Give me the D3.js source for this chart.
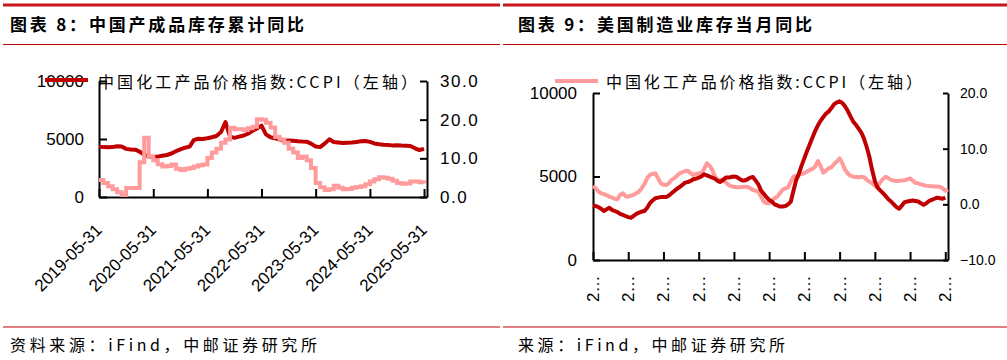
<!DOCTYPE html>
<html><head><meta charset="utf-8">
<script src="https://cdn.jsdelivr.net/npm/d3@7"></script>
<style>body{margin:0;background:#fff}svg{display:block}</style>
</head><body><svg id="c" width="1007" height="360"></svg>
<script>
// ---------- DATA ----------
// Panel 1 (monthly, 2019-05 .. 2025-05)
const leftCCPI = [4340,4300,4280,4300,4380,4350,4150,4100,4080,3900,
  3650,3500,3470,3480,3550,3620,3750,3950,4110,4250,
  4340,4900,5020,5000,5060,5150,5260,5600,6450,5200,
  5100,5200,5300,5450,5700,5900,6150,5400,5150,5050,
  4950,4850,4880,4850,4800,4780,4770,4600,4350,4300,
  4600,4970,4750,4700,4650,4680,4700,4750,4800,4830,
  4750,4620,4550,4500,4480,4450,4460,4430,4420,4400,
  4200,4050,4150];
const leftInventory = [4.4,3.6,2.8,2.0,1.2,0.5,2.3,2.3,2.3,9.0,
  15.3,10.5,9.5,8.5,7.9,8.0,8.4,7.3,7.0,7.3,
  7.5,7.9,8.2,8.4,10.1,11.5,12.5,14.0,14.9,17.9,
  17.5,17.5,17.3,17.8,18.2,20.1,20.0,19.2,18.0,15.5,
  14.9,14.0,12.5,11.5,10.1,10.5,9.5,7.5,3.6,2.5,
  1.8,2.0,2.9,2.4,2.0,2.1,2.4,2.6,2.8,3.3,
  4.0,4.6,5.1,5.0,4.7,4.2,3.6,3.4,3.5,4.0,
  4.0,3.8,3.5];
const leftTickLabels = ["2019-05-31","2020-05-31","2021-05-31","2022-05-31","2023-05-31","2024-05-31","2025-05-31"];
const leftYTicks = [0,5000,10000];
const leftY2Ticks = [0,10,20,30];

// Panel 2 (monthly index)
const rightCCPI = [4430,4300,4100,3990,3950,3880,3800,3740,3660,3640,
  3900,4000,3820,3790,3850,3900,3990,4100,4300,4550,
  4900,5090,5150,5190,4900,4590,4500,4490,4600,4800,
  4900,5050,5190,5250,5330,5350,5200,5090,5150,5200,
  5190,5450,5790,5650,5400,5000,4790,4800,4790,4650,
  4500,4420,4390,4360,4350,4370,4390,4380,4300,4190,
  4150,4090,3800,3500,3395,3400,3550,3700,3800,4000,
  4200,4290,4350,4700,4990,5050,5090,5150,5200,5300,
  5390,5450,5600,5930,5600,5230,5350,5500,5550,5750,
  5900,6090,5800,5400,5200,5050,4990,4970,4950,4980,
  4950,4800,4690,4600,4450,4390,4650,4850,4990,4900,
  4800,4750,4730,4750,4760,4780,4820,4890,4750,4620,
  4590,4530,4480,4450,4430,4420,4400,4400,4390,4300,
  4150,4230];
const rightUSInventory = [-0.2,-0.3,-0.5,-0.8,-1.2,-0.9,-0.6,-1.0,-1.2,-1.4,
  -1.7,-1.9,-2.1,-2.3,-2.4,-2.1,-1.7,-1.5,-1.3,-1.2,
  -0.6,0.2,0.7,1.1,1.2,1.3,1.3,1.3,1.6,2.0,
  2.4,2.8,3.1,3.5,3.9,4.0,4.2,4.5,4.6,4.8,
  5.0,5.4,5.2,5.0,4.8,4.6,4.2,4.0,4.4,4.8,
  4.8,4.9,5.0,4.9,4.6,4.3,4.3,4.5,4.8,4.9,
  4.3,3.6,2.5,1.9,1.3,0.8,0.5,0.0,-0.2,-0.4,
  -0.4,-0.3,0.0,0.5,2.5,4.4,5.5,7.0,8.3,9.6,
  10.8,12.0,13.2,14.2,15.0,15.7,16.3,16.7,17.3,18.0,
  18.3,18.5,18.2,17.6,16.8,15.8,14.9,14.3,13.6,12.9,
  11.8,10.3,8.5,6.2,4.2,3.0,2.5,2.0,1.5,0.9,
  0.5,0.0,-0.5,-0.8,-0.2,0.4,0.5,0.6,0.7,0.6,
  0.5,0.2,-0.1,0.2,0.6,0.8,1.0,1.2,1.1,1.0,
  1.2];
const rightTickIndex = [0,13,26,39,52,65,78,91,104,117,130];
const rightTickLabels = ["2…","2…","2…","2…","2…","2…","2…","2…","2…","2…","2…"];
const rightYTicks = [0,5000,10000];
const rightY2Ticks = [-10,0,10,20];

const legendLabel = "中国化工产品价格指数:CCPI（左轴）";
const titles = ["图表 8：中国产成品库存累计同比","图表 9：美国制造业库存当月同比"];
const sources = ["资料来源：iFind，中邮证券研究所","来源：iFind，中邮证券研究所"];

// ---------- STYLE ----------
const RED = "#C00000", PINK = "#FF9B9B", BAR = "#C8161E", LINE = "#C00000";
const CJK = '"Noto Sans CJK SC", sans-serif';
const LAT = '"Liberation Sans", Arial, sans-serif';
const svg = d3.select("#c");

// frame decorations
const frames = [{x0:3,x1:500,tx:10,tl:294,sl:307},{x0:503,x1:1007,tx:518,tl:294,sl:267}];
frames.forEach((f,i)=>{
  svg.append("rect").attr("x",f.x0).attr("y",3.5).attr("width",f.x1-f.x0).attr("height",3).attr("fill",BAR);
  svg.append("rect").attr("x",f.x0).attr("y",44).attr("width",f.x1-f.x0).attr("height",1).attr("fill",LINE);
  svg.append("rect").attr("x",f.x0).attr("y",326.5).attr("width",f.x1-f.x0).attr("height",1).attr("fill",LINE);
  svg.append("text").attr("x",f.tx).attr("y",31).attr("font-family",CJK).attr("font-weight","bold")
    .attr("font-size",17).attr("fill","#000").attr("textLength",f.tl).attr("lengthAdjust","spacing").text(titles[i]);
  svg.append("text").attr("x",f.tx).attr("y",351).attr("font-family",CJK)
    .attr("font-size",16).attr("fill","#000").attr("textLength",f.sl).attr("lengthAdjust","spacing").text(sources[i]);
});

function styleAxis(g){
  g.select(".domain").attr("stroke","#000").attr("stroke-width",2);
  g.selectAll(".tick line").attr("stroke","#000").attr("stroke-width",2);
  g.selectAll("text").attr("fill","#000");
}

// ---------- PANEL 1 ----------
(function(){
  const X0=99, X1=427, Y0=197, Y1=81;
  const parse = d3.timeParse("%Y-%m-%d");
  const dates = d3.range(leftCCPI.length).map(i=>new Date(2019,5+i,0));
  const x = d3.scaleTime().domain([parse("2019-05-31"), parse("2025-06-20")]).range([X0,X1]);
  const yL = d3.scaleLinear().domain([0,10000]).range([Y0,Y1]);
  const yR = d3.scaleLinear().domain([0,30]).range([Y0,Y1]);
  const g = svg.append("g");

  const ax = g.append("g").attr("transform",`translate(0,${Y0})`)
    .call(d3.axisBottom(x).tickValues(leftTickLabels.map(parse)).tickSize(-8).tickSizeOuter(0).tickFormat(""));
  styleAxis(ax);
  g.append("g").selectAll("text").data(leftTickLabels).join("text")
    .attr("transform",d=>`translate(${x(parse(d))+4},${231}) rotate(-45)`)
    .attr("text-anchor","end").attr("font-family",LAT).attr("font-size",17).attr("fill","#000").text(d=>d);

  const al = g.append("g").attr("transform",`translate(${X0},0)`)
    .call(d3.axisLeft(yL).tickValues(leftYTicks).tickSize(-8).tickSizeOuter(0).tickPadding(15).tickFormat(d3.format("d")));
  styleAxis(al);
  al.selectAll("text").attr("font-family",LAT).attr("font-size",17);

  const ar = g.append("g").attr("transform",`translate(${X1},0)`)
    .call(d3.axisRight(yR).tickValues(leftY2Ticks).tickSize(-7).tickSizeOuter(0).tickPadding(13).tickFormat(d3.format(".1f")));
  styleAxis(ar);
  ar.selectAll("text").attr("font-family",LAT).attr("font-size",17).attr("letter-spacing",1.5);

  g.append("path").datum(leftCCPI).attr("fill","none").attr("stroke",RED).attr("stroke-width",4)
    .attr("stroke-linejoin","round")
    .attr("d",d3.line().x((d,i)=>x(dates[i])).y(d=>yL(d)));
  g.append("path").datum(leftInventory).attr("fill","none").attr("stroke",PINK).attr("stroke-width",4)
    .attr("d",d3.line().curve(d3.curveStepAfter).x((d,i)=>x(dates[i])).y(d=>yR(d)));

  // legend
  g.append("line").attr("x1",45).attr("x2",88).attr("y1",80).attr("y2",80).attr("stroke",RED).attr("stroke-width",4);
  g.append("text").attr("x",98).attr("y",88).attr("font-family",CJK).attr("font-size",16).attr("fill","#000")
    .attr("textLength",319).attr("lengthAdjust","spacing").text(legendLabel);
})();

// ---------- PANEL 2 ----------
(function(){
  const X0=593, X1=948, Y0=260, Y1=93;
  const n = rightCCPI.length;
  const x = d3.scaleLinear().domain([0,n-1]).range([X0,X1]);
  const yL = d3.scaleLinear().domain([0,10000]).range([Y0,Y1]);
  const yR = d3.scaleLinear().domain([-10,20]).range([Y0,Y1]);
  const g = svg.append("g");

  const ax = g.append("g").attr("transform",`translate(0,${Y0})`)
    .call(d3.axisBottom(x).tickValues(rightTickIndex).tickSize(-8).tickSizeOuter(0).tickFormat(""));
  styleAxis(ax);
  g.append("g").selectAll("text").data(rightTickIndex).join("text")
    .attr("transform",d=>`translate(${x(d)+6},${302}) rotate(-90)`)
    .attr("text-anchor","start").attr("font-family",LAT).attr("font-size",17).attr("fill","#000")
    .text((d,i)=>rightTickLabels[i]);

  const al = g.append("g").attr("transform",`translate(${X0},0)`)
    .call(d3.axisLeft(yL).tickValues(rightYTicks).tickSize(-7).tickSizeOuter(0).tickPadding(16).tickFormat(d3.format("d")));
  styleAxis(al);
  al.selectAll("text").attr("font-family",LAT).attr("font-size",17);

  const ar = g.append("g").attr("transform",`translate(${X1},0)`)
    .call(d3.axisRight(yR).tickValues(rightY2Ticks).tickSize(-5).tickSizeOuter(0).tickPadding(12).tickFormat(d3.format(".1f")));
  styleAxis(ar);
  ar.selectAll("text").attr("font-family",LAT).attr("font-size",14);

  g.append("path").datum(rightCCPI).attr("fill","none").attr("stroke",PINK).attr("stroke-width",4)
    .attr("stroke-linejoin","round")
    .attr("d",d3.line().x((d,i)=>x(i)).y(d=>yL(d)));
  g.append("path").datum(rightUSInventory).attr("fill","none").attr("stroke",RED).attr("stroke-width",4)
    .attr("stroke-linejoin","round")
    .attr("d",d3.line().x((d,i)=>x(i)).y(d=>yR(d)));

  g.append("line").attr("x1",555).attr("x2",598).attr("y1",81).attr("y2",81).attr("stroke",PINK).attr("stroke-width",4);
  g.append("text").attr("x",606).attr("y",88).attr("font-family",CJK).attr("font-size",16).attr("fill","#000")
    .attr("textLength",316).attr("lengthAdjust","spacing").text(legendLabel);
})();
</script></body></html>
